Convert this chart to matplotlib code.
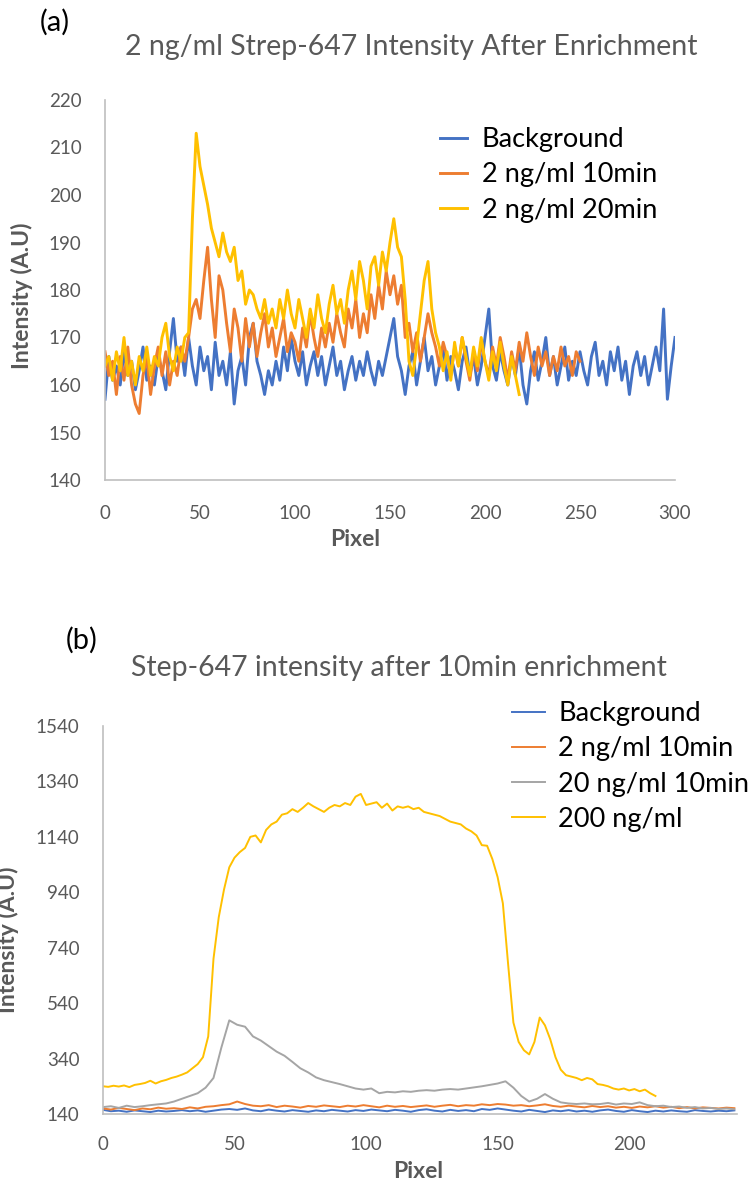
import numpy as np
import matplotlib
matplotlib.use("Agg")
import matplotlib.pyplot as plt

plt.rcParams['font.family'] = ['Lato', 'DejaVu Sans']

# ---- panel (a): 2 ng/ml, values every 2 pixels ----
a_step = 2
a_background = [
    157, 166, 161, 164, 160, 167, 162, 165, 159, 163,
    168, 161, 164, 160, 166, 163, 159, 167, 174, 165,
    168, 162, 170, 164, 160, 168, 163, 166, 159, 169,
    162, 165, 160, 167, 156, 163, 166, 160, 170, 173,
    165, 162, 158, 163, 160, 165, 161, 168, 163, 170,
    165, 162, 167, 160, 164, 167, 162, 166, 160, 164,
    168, 162, 165, 159, 163, 166, 161, 165, 162, 167,
    163, 160, 165, 162, 166, 170, 174, 166, 163, 158,
    164, 167, 160, 165, 170, 163, 166, 160, 164, 168,
    161, 166, 163, 159, 165, 168, 162, 166, 160, 164,
    170, 176, 164, 161, 167, 163, 160, 166, 162, 168,
    160, 156, 163, 167, 161, 165, 170, 162, 166, 160,
    164, 168, 161, 165, 162, 167, 163, 160, 166, 169,
    162, 165, 160, 167, 163, 168, 161, 165, 158, 164,
    167, 162, 166, 160, 164, 168, 163, 176, 157, 164,
    170,
]
a_10min = [
    167, 162, 165, 158, 166, 161, 168, 160, 156, 154,
    162, 166, 158, 164, 168, 162, 167, 160, 165, 162,
    168, 165, 170, 176, 178, 174, 182, 189, 178, 170,
    183, 180, 173, 167, 176, 172, 165, 174, 168, 173,
    166, 171, 175, 168, 172, 166, 170, 174, 167, 171,
    169, 165, 172, 168, 175, 170, 166, 172, 168, 173,
    169, 175, 171, 168, 176, 172, 178, 170, 175, 171,
    179, 174, 181, 176, 184, 179, 183, 177, 181, 170,
    173, 167, 171, 165, 170, 175, 171, 168, 164, 169,
    166, 162, 168, 164, 170, 165, 161, 167, 163, 169,
    165, 162, 168, 164, 170, 166, 161, 167, 163, 169,
    165, 171, 166, 162, 168, 164, 167, 162, 166, 163,
    168, 164, 166, 162, 167, 165,
]
a_20min = [
    164, 166, 161, 167, 163, 170, 162, 165, 160, 166,
    163, 168, 162, 166, 164, 170, 173, 166, 163, 168,
    165, 170, 171, 195, 213, 206, 202, 198, 193, 190,
    187, 192, 188, 186, 189, 182, 184, 177, 180, 179,
    176, 174, 178, 173, 176, 172, 178, 174, 180, 175,
    172, 178, 174, 170, 176, 172, 179, 174, 171, 177,
    181, 175, 178, 173, 180, 184, 178, 186, 182, 176,
    185, 187, 181, 188, 184, 190, 195, 189, 187, 178,
    165, 162, 168, 175, 182, 186, 176, 171, 168, 163,
    167, 161, 169, 164, 170, 166, 162, 168, 164, 170,
    165, 161, 167, 163, 169, 164, 160, 166, 162, 158,
]
a_labels = ['Background', '2 ng/ml 10min', '2 ng/ml 20min']

# ---- panel (b): 10 min enrichment ----
b_step_low = 3
b_background = [
    155, 150, 152, 148, 153, 150, 147, 152, 149, 151,
    154, 150, 153, 148, 152, 156, 158, 155, 160, 153,
    150, 156, 152, 149, 154, 151, 148, 153, 150, 155,
    152, 149, 154, 151, 156, 153, 150, 155, 152, 148,
    154, 157, 152, 149, 155, 151, 154, 150, 158, 155,
    160, 156, 152, 149, 155, 151, 147, 153, 150, 154,
    149, 152, 148, 153, 156, 151, 148, 154, 150, 147,
    152, 149, 153, 150, 148, 154, 151, 149, 152, 150,
    153,
]
b_2ng = [
    160, 156, 162, 158, 154, 160, 157, 163, 159, 161,
    158, 164, 160, 166, 168, 172, 175, 185, 176, 170,
    168, 172, 165, 170, 167, 163, 169, 166, 171, 168,
    165, 170, 167, 172, 168, 164, 170, 166, 169, 165,
    168, 171, 166, 170, 173, 168, 172, 170, 175, 172,
    176, 174, 170, 172, 168, 171, 175, 169, 166, 170,
    167, 164, 169, 165, 168, 163, 166, 162, 167, 164,
    168, 163, 166, 161, 165, 160, 164, 162, 160, 163,
    161,
]
b_20ng = [
    165, 168, 162, 170, 165, 168, 172, 175, 178, 185,
    195, 205, 215, 235, 270, 380, 478, 462, 455, 420,
    405, 385, 365, 350, 328, 305, 290, 272, 262, 255,
    248, 240, 232, 228, 232, 215, 220, 218, 222, 220,
    224, 226, 224, 228, 230, 228, 232, 236, 240, 245,
    250, 258, 235, 205, 185, 195, 212, 195, 182, 178,
    176, 178, 175, 176, 180, 174, 178, 176, 182, 172,
    168, 170, 165, 167, 162, 165, 160, 162, 158, 160,
    157,
]
b_step_high = 2
b_200ng = [
    240, 238, 242, 239, 243, 237, 245, 248, 252, 260,
    250, 258, 263, 270, 275, 282, 290, 305, 320, 345,
    420, 700, 850, 950, 1030, 1065, 1085, 1100, 1140, 1145,
    1120, 1165, 1185, 1195, 1220, 1225, 1240, 1230, 1245, 1262,
    1250, 1240, 1230, 1245, 1255, 1250, 1262, 1255, 1285, 1295,
    1255, 1260, 1265, 1245, 1260, 1235, 1250, 1245, 1250, 1240,
    1245, 1230, 1225, 1220, 1215, 1205, 1195, 1190, 1185, 1170,
    1160, 1145, 1110, 1108, 1060, 995, 900, 680, 470, 400,
    370, 355, 400, 488, 460, 410, 345, 300, 280, 275,
    270, 262, 270, 265, 248, 245, 240, 232, 228, 232,
    225, 230, 222, 228, 215, 205,
]
b_labels = ['Background', '2 ng/ml 10min', '20 ng/ml 10min', '200 ng/ml']

BLUE, ORANGE, GREY, GOLD = '#4472C4', '#ED7D31', '#A5A5A5', '#FFC000'
TXT = '#595959'
W, H = 754, 1191


def rect(left, top, right, bottom):
    return [left / W, 1 - bottom / H, (right - left) / W, (bottom - top) / H]


def style(ax):
    for s in ['top', 'right']:
        ax.spines[s].set_visible(False)
    for s in ['left', 'bottom']:
        ax.spines[s].set_color('#BFBFBF')
        ax.spines[s].set_linewidth(1.2)
    ax.tick_params(length=0, labelsize=13.5, labelcolor=TXT)


fig = plt.figure(figsize=(W / 100, H / 100), dpi=100)

# panel (a)
ax1 = fig.add_axes(rect(105, 100, 675, 480))
ax1.plot(np.arange(len(a_background)) * a_step, a_background, color=BLUE, lw=2.1, label=a_labels[0])
ax1.plot(np.arange(len(a_10min)) * a_step, a_10min, color=ORANGE, lw=2.1, label=a_labels[1])
ax1.plot(np.arange(len(a_20min)) * a_step, a_20min, color=GOLD, lw=2.1, label=a_labels[2])
ax1.set_xlim(0, 300)
ax1.set_ylim(140, 220)
ax1.set_xticks(range(0, 301, 50))
ax1.set_yticks(range(140, 221, 10))
style(ax1)
ax1.tick_params(axis='y', pad=17)
ax1.tick_params(axis='x', pad=18)
ax1.legend(loc='upper left', bbox_to_anchor=(440 / W, 1 - 127 / H), bbox_transform=fig.transFigure,
           frameon=False, fontsize=19.5, handlelength=1.0, handletextpad=0.55, labelspacing=0.38,
           borderpad=0, borderaxespad=0)

fig.text(55 / W, 1 - 22 / H, '(a)', fontsize=21, ha='center', va='center', color='black')
fig.text(411 / W, 1 - 47 / H, '2 ng/ml Strep-647 Intensity After Enrichment', fontsize=20.5,
         ha='center', va='center', color=TXT)
fig.text(355 / W, 1 - 539 / H, 'Pixel', fontsize=16.5, fontweight='bold', ha='center', va='center', color=TXT)
fig.text(22 / W, 1 - 296 / H, 'Intensity (A.U)', fontsize=16.5, fontweight='bold', rotation=90,
         ha='center', va='center', color=TXT)

# panel (b)
ax2 = fig.add_axes(rect(103, 726, 737, 1114))
ax2.plot(np.arange(len(b_background)) * b_step_low, b_background, color=BLUE, lw=1.4, label=b_labels[0])
ax2.plot(np.arange(len(b_2ng)) * b_step_low, b_2ng, color=ORANGE, lw=1.4, label=b_labels[1])
ax2.plot(np.arange(len(b_20ng)) * b_step_low, b_20ng, color=GREY, lw=1.4, label=b_labels[2])
ax2.plot(np.arange(len(b_200ng)) * b_step_high, b_200ng, color=GOLD, lw=1.4, label=b_labels[3])
ax2.set_xlim(0, 241)
ax2.set_ylim(140, 1540)
ax2.set_xticks(range(0, 201, 50))
ax2.set_yticks(range(140, 1541, 200))
style(ax2)
ax2.tick_params(axis='y', pad=17)
ax2.tick_params(axis='x', pad=16)
ax2.legend(loc='upper left', bbox_to_anchor=(512 / W, 1 - 701 / H), bbox_transform=fig.transFigure,
           frameon=False, fontsize=19.5, handlelength=1.2, handletextpad=0.5, labelspacing=0.38,
           borderpad=0, borderaxespad=0)

fig.text(82 / W, 1 - 640 / H, '(b)', fontsize=21, ha='center', va='center', color='black')
fig.text(399 / W, 1 - 668 / H, 'Step-647 intensity after 10min enrichment', fontsize=20.5,
         ha='center', va='center', color=TXT)
fig.text(418 / W, 1 - 1172 / H, 'Pixel', fontsize=16.5, fontweight='bold', ha='center', va='center', color=TXT)
fig.text(8 / W, 1 - 940 / H, 'Intensity (A.U)', fontsize=16.5, fontweight='bold', rotation=90,
         ha='center', va='center', color=TXT)

fig.savefig('out.png', dpi=100)
